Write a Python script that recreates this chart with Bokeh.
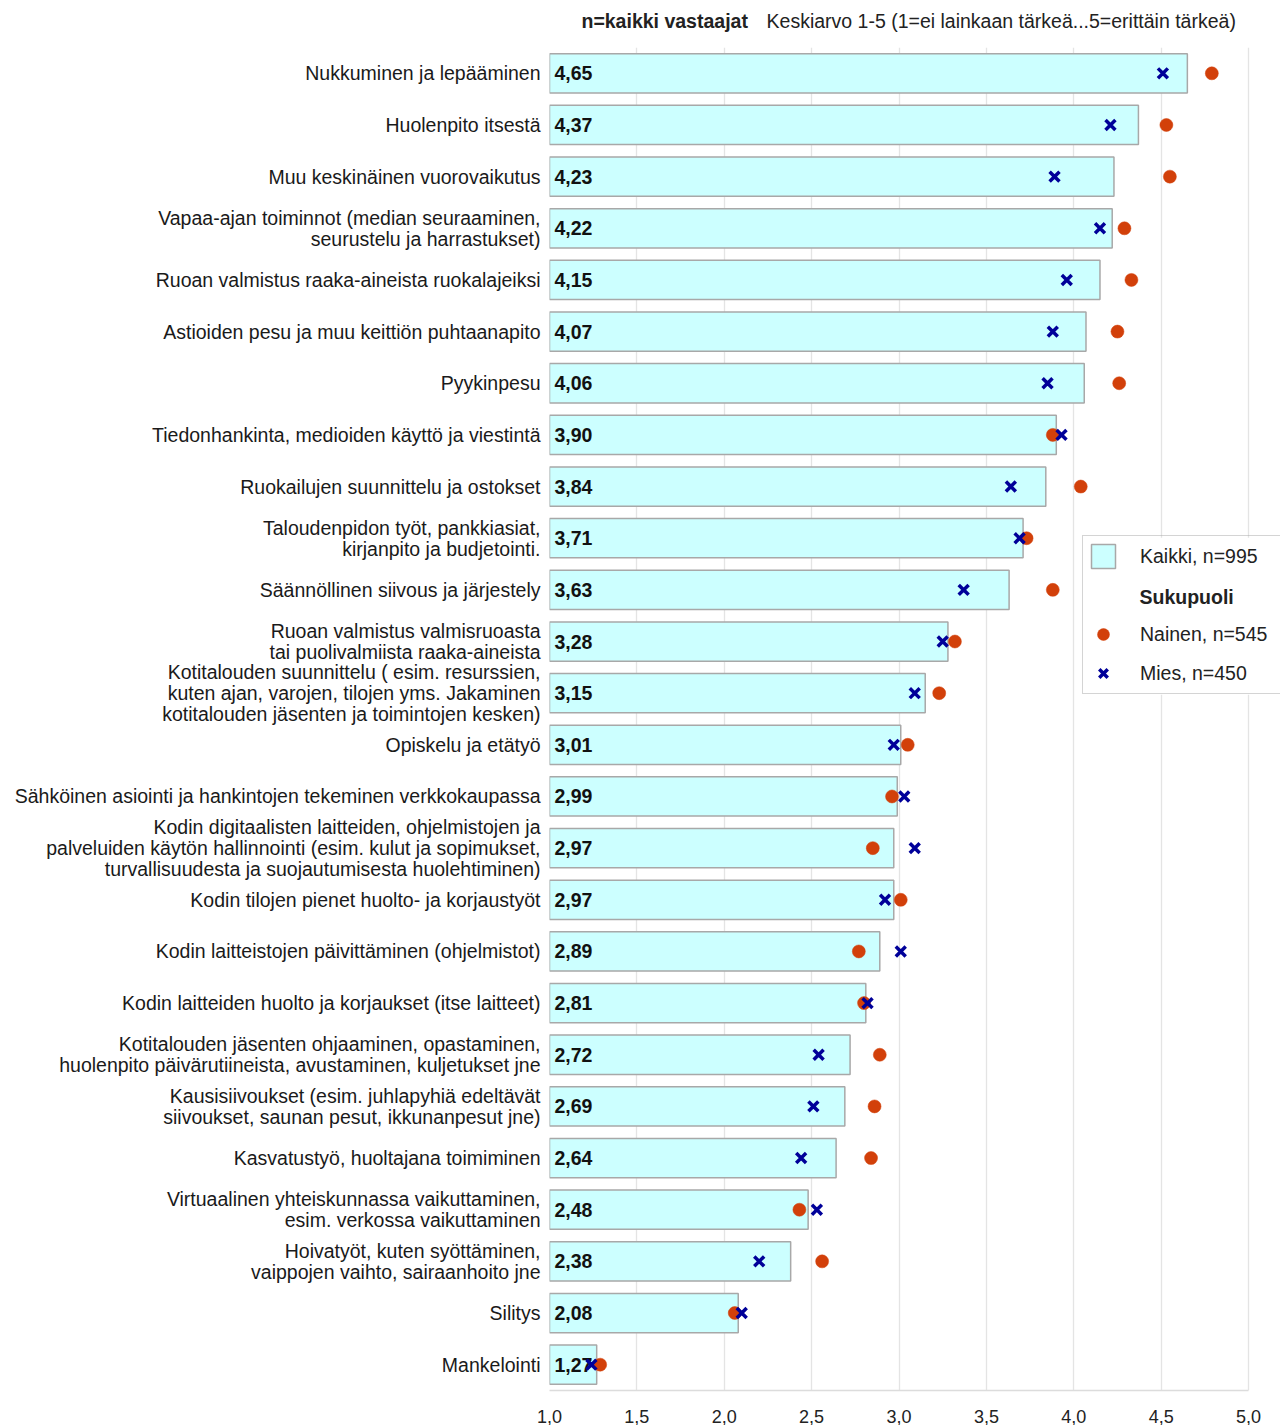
from bokeh.plotting import figure
from bokeh.layouts import column
from bokeh.models import (FactorRange, Range1d, FixedTicker, Legend, LegendItem,
                          Label, ColumnDataSource, BoxAnnotation)
from bokeh.core.properties import value
from bokeh.embed import file_html
from bokeh.resources import INLINE

categories = [
    "Nukkuminen ja lepääminen",
    "Huolenpito itsestä",
    "Muu keskinäinen vuorovaikutus",
    "Vapaa-ajan toiminnot (median seuraaminen,\nseurustelu ja harrastukset)",
    "Ruoan valmistus raaka-aineista ruokalajeiksi",
    "Astioiden pesu ja muu keittiön puhtaanapito",
    "Pyykinpesu",
    "Tiedonhankinta, medioiden käyttö ja viestintä",
    "Ruokailujen suunnittelu ja ostokset",
    "Taloudenpidon työt, pankkiasiat,\nkirjanpito ja budjetointi.",
    "Säännöllinen siivous ja järjestely",
    "Ruoan valmistus valmisruoasta\ntai puolivalmiista raaka-aineista",
    "Kotitalouden suunnittelu ( esim. resurssien,\nkuten ajan, varojen, tilojen yms. Jakaminen\nkotitalouden jäsenten ja toimintojen kesken)",
    "Opiskelu ja etätyö",
    "Sähköinen asiointi ja hankintojen tekeminen verkkokaupassa",
    "Kodin digitaalisten laitteiden, ohjelmistojen ja\npalveluiden käytön hallinnointi (esim. kulut ja sopimukset,\nturvallisuudesta ja suojautumisesta huolehtiminen)",
    "Kodin tilojen pienet huolto- ja korjaustyöt",
    "Kodin laitteistojen päivittäminen (ohjelmistot)",
    "Kodin laitteiden huolto ja korjaukset (itse laitteet)",
    "Kotitalouden jäsenten ohjaaminen, opastaminen,\nhuolenpito päivärutiineista, avustaminen, kuljetukset jne",
    "Kausisiivoukset (esim. juhlapyhiä edeltävät\nsiivoukset, saunan pesut, ikkunanpesut jne)",
    "Kasvatustyö, huoltajana toimiminen",
    "Virtuaalinen yhteiskunnassa vaikuttaminen,\nesim. verkossa vaikuttaminen",
    "Hoivatyöt, kuten syöttäminen,\nvaippojen vaihto, sairaanhoito jne",
    "Silitys",
    "Mankelointi",
]

kaikki = [4.65, 4.37, 4.23, 4.22, 4.15, 4.07, 4.06, 3.90, 3.84, 3.71, 3.63, 3.28, 3.15,
          3.01, 2.99, 2.97, 2.97, 2.89, 2.81, 2.72, 2.69, 2.64, 2.48, 2.38, 2.08, 1.27]
nainen = [4.79, 4.53, 4.55, 4.29, 4.33, 4.25, 4.26, 3.88, 4.04, 3.73, 3.88, 3.32, 3.23,
          3.05, 2.96, 2.85, 3.01, 2.77, 2.80, 2.89, 2.86, 2.84, 2.43, 2.56, 2.06, 1.29]
mies = [4.51, 4.21, 3.89, 4.15, 3.96, 3.88, 3.85, 3.93, 3.64, 3.69, 3.37, 3.25, 3.09,
        2.97, 3.03, 3.09, 2.92, 3.01, 2.82, 2.54, 2.51, 2.44, 2.53, 2.20, 2.10, 1.24]

x_ticks = [1.0, 1.5, 2.0, 2.5, 3.0, 3.5, 4.0, 4.5, 5.0]
x_tick_labels = ["1,0", "1,5", "2,0", "2,5", "3,0", "3,5", "4,0", "4,5", "5,0"]

title_bold = "n=kaikki vastaajat"
title_normal = "Keskiarvo 1-5 (1=ei lainkaan tärkeä...5=erittäin tärkeä)"
legend_labels = ["Kaikki, n=995", "Sukupuoli", "Nainen, n=545", "Mies, n=450"]

value_labels = [f"{v:.2f}".replace(".", ",") for v in kaikki]
x_min, x_max = 1.0, 5.0
x_view_end = 5.183   # frame continues to the right edge so the legend fits

FONT = "Liberation Sans"
NARROW = "'Liberation Sans Narrow', 'Liberation Sans', sans-serif"
W = 1280

src = ColumnDataSource(dict(cat=categories, kaikki=kaikki, nainen=nainen, mies=mies,
                            base=[x_min] * len(categories), lbl=value_labels))

# ---- title strip (its frame is aligned with the chart's frame) ----
t = figure(width=W, height=40, x_range=Range1d(x_min, x_view_end), y_range=Range1d(0, 40),
           output_backend="svg", toolbar_location=None,
           min_border_left=549, min_border_right=0, min_border_top=0, min_border_bottom=0)
t.axis.visible = False
t.grid.visible = False
t.outline_line_color = None
t.text(x=[1.183], y=[20], text=[title_bold], text_baseline="middle",
       text_font=value(FONT), text_font_size="19.5px", text_font_style="bold",
       text_color="#222222")
t.text(x=[2.242], y=[20], text=[title_normal], text_baseline="middle",
       text_font=value(FONT), text_font_size="19.5px", text_color="#222222")

# ---- main chart ----
p = figure(width=W, height=1385,
           x_range=Range1d(x_min, x_view_end),
           y_range=FactorRange(factors=list(reversed(categories))),
           output_backend="svg", toolbar_location=None,
           min_border_left=549, min_border_right=0,
           min_border_top=7, min_border_bottom=35)
p.outline_line_color = None
p.background_fill_color = "white"

p.ygrid.grid_line_color = None
p.xgrid.ticker = FixedTicker(ticks=x_ticks)
p.xgrid.grid_line_color = "#e4e4e4"
p.xgrid.grid_line_width = 1.3

p.xaxis.ticker = FixedTicker(ticks=x_ticks)
p.xaxis.bounds = (x_min, x_max)
p.xaxis.major_label_overrides = {tk: lb for tk, lb in zip(x_ticks, x_tick_labels)}
p.xaxis.axis_line_color = "#dcdcdc"
p.xaxis.axis_line_width = 1.3
p.xaxis.major_tick_line_color = None
p.xaxis.minor_tick_line_color = None
p.xaxis.major_label_standoff = 13
p.xaxis.major_label_text_font = NARROW
p.xaxis.major_label_text_font_size = "18px"
p.xaxis.major_label_text_color = "#222222"

p.yaxis.axis_line_color = None
p.yaxis.major_tick_line_color = None
p.yaxis.minor_tick_line_color = None
p.yaxis.major_label_standoff = 3
p.yaxis.major_label_text_font = FONT
p.yaxis.major_label_text_font_size = "19.5px"
p.yaxis.major_label_text_line_height = 0.94
p.yaxis.major_label_text_color = "#1a1a1a"

# white backing for the legend (hides grid lines), drawn under the glyphs
p.add_layout(BoxAnnotation(left=4.05, right=6.0, top=16.51, bottom=13.47,
                           fill_color="white", fill_alpha=1.0, line_color=None,
                           level="underlay"))

bars = p.hbar(y="cat", left="base", right="kaikki", height=0.76, source=src,
              fill_color="#ccffff", line_color="#a8a8a8", line_width=1.5)

p.text(x="base", y="cat", text="lbl", source=src, x_offset=5,
       text_baseline="middle", text_align="left",
       text_font=value(FONT), text_font_size="19.5px", text_font_style="bold",
       text_color="#111111")

r_n = p.scatter(x="nainen", y="cat", source=src, marker="circle", size=13,
                fill_color="#d2400a", line_color="#d2400a", line_width=0.5)
r_m = p.scatter(x="mies", y="cat", source=src, marker="x", size=14,
                line_color="#000099", line_width=3.5)

dummy = p.scatter(x=[], y=[], marker="circle", size=1, fill_alpha=0, line_alpha=0)

legend = Legend(items=[
    LegendItem(label=legend_labels[0], renderers=[bars]),
    LegendItem(label=" ", renderers=[dummy]),
    LegendItem(label=legend_labels[2], renderers=[r_n]),
    LegendItem(label=legend_labels[3], renderers=[r_m]),
], location=(533, 696), margin=0, padding=5, spacing=9,
    glyph_width=30, glyph_height=30, label_standoff=22, label_width=140,
    label_text_font=FONT, label_text_font_size="19.5px", label_text_color="#222222",
    border_line_color="#aaaaaa", border_line_width=1.5,
    background_fill_alpha=0.0)
p.add_layout(legend, "center")

p.add_layout(Label(x=4.376, y=15.37, text=legend_labels[1], text_baseline="middle",
                   text_font=FONT, text_font_size="19.5px", text_font_style="bold",
                   text_color="#222222"))

layout = column(t, p, spacing=0)
open("out.html", "w").write(file_html(layout, INLINE))
